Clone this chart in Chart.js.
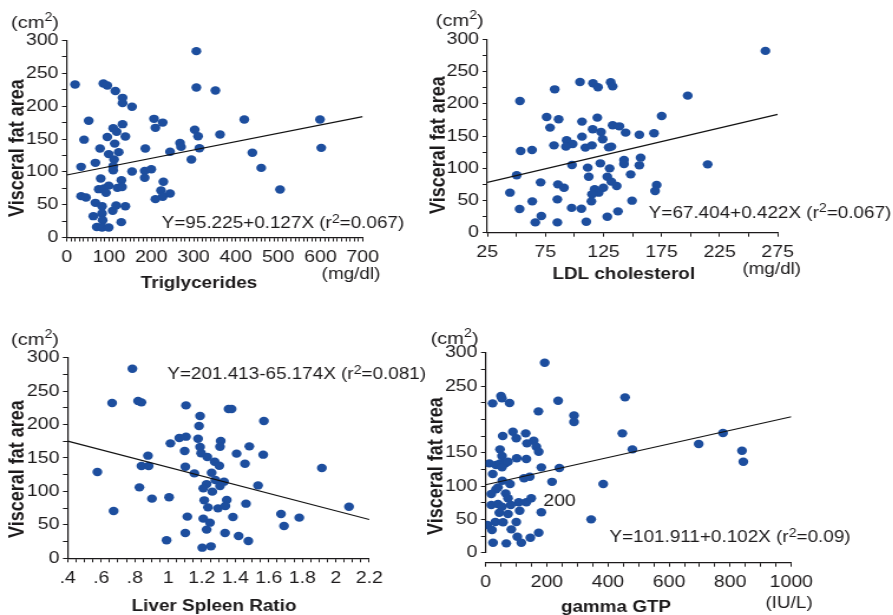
<!DOCTYPE html>
<html>
<head>
<meta charset="utf-8">
<script src="https://cdn.jsdelivr.net/npm/chart.js@4"></script>
<style>
  body { margin: 0; background: #fff; }
  #fig { position: relative; width: 893px; height: 615px; overflow: hidden; background: #fff; }
  .panel { position: absolute; transform-origin: 0 0; transform: scaleX(1.18); }
  canvas { display: block; }
</style>
</head>
<body>
<div id="fig">
  <div class="panel" style="left:0px;top:0px"><canvas id="chartTg" width="356" height="300"></canvas></div>
  <div class="panel" style="left:420px;top:0px"><canvas id="chartLdl" width="401" height="300"></canvas></div>
  <div class="panel" style="left:0px;top:310px"><canvas id="chartLsr" width="373" height="305"></canvas></div>
  <div class="panel" style="left:420px;top:310px"><canvas id="chartGtp" width="401" height="305"></canvas></div>
</div>
<script>
// the figure is a bit wider than tall, so every panel is stretched horizontally
const STRETCH = 1.18
const ink = '#1c1a1b'
const dotColor = '#1d4e9e'
const fontFamily = "'Liberation Sans', Arial, sans-serif"

// tick labels
const vfaLabels = [0, 50, 100, 150, 200, 250, 300]
const gtpVfaLabels = [0, 50, 100, 150, 250, 300] // 200 is missing on that axis in the original
const tgLabels = [0, 100, 200, 300, 400, 500, 600, 700]
const ldlLabels = [25, 75, 125, 175, 225, 275]
const lsrLabels = ['.4', '.6', '.8', '1', '1.2', '1.4', '1.6', '1.8', '2', '2.2']
const gtpLabels = [0, 200, 400, 600, 800, 1000]

// Triglycerides (mg/dl) vs visceral fat area (cm2)
const tgX = [19.7, 86.7, 96, 115, 132, 132, 154.5, 52, 41, 34, 67.8, 78.8, 96, 110, 118, 132, 138.7, 113.5, 99.3, 112,
  110, 110, 123, 154.5, 80.4, 75.7, 88, 93, 99.3, 119.8, 129.3, 130.8, 34, 45.7, 67.8, 83.6, 108.8, 116.7, 138.7, 63,
  83.6, 71, 85, 83.6, 99.3, 129, 306.6, 306.6, 351.6, 186, 206.5, 209.7, 227, 184.5, 200, 184.5, 244.4, 268, 270.4, 228.6,
  223, 209.7, 227, 244.4, 294.8, 302.7, 310.6, 313.8, 362.6, 420, 439, 460, 504.5, 599, 602]
const tgY = [233, 234.5, 231.5, 223, 212.7, 204.6, 199, 177.7, 149, 107.6, 113.7, 135.5, 153, 166.5, 161, 172.6, 153.8, 143, 127, 118.8,
  108.6, 102.5, 130, 100.5, 89.8, 73.6, 74.6, 68, 79, 75.6, 87.3, 77, 63, 61, 52.8, 47.7, 40.6, 48.7, 47.7, 32.5,
  36.5, 16, 26.4, 15.2, 15.2, 23.4, 283.8, 228.4, 223.9, 135.5, 180.7, 167, 175, 101.5, 104, 90.9, 130.5, 144, 138, 84.8,
  71.6, 58.4, 62, 67, 118.8, 164, 154.3, 136, 156.9, 179.7, 129, 106, 73, 179.7, 136.5]
const tgFitX = [0, 700]
const tgFitY = [95.2, 184.1]

// LDL cholesterol (mg/dl)
const ldlX = [264.4, 197.5, 175.1, 214.7, 53.1, 83, 104.8, 116, 120.3, 131.2, 132.9, 76.1, 79, 86.4, 106.5, 119.7, 115.7, 122.9, 124.3, 132.9,
  138.7, 144.1, 155.9, 168.5, 106.5, 93.3, 95.6, 98.5, 82.4, 92.7, 53.7, 63.5, 109.4, 115.1, 129.5, 131.8, 97.9, 111.4, 122.3, 130.3,
  142.7, 142.7, 157, 155.9, 50.3, 112.3, 128.3, 148.4, 70.9, 85.8, 91, 44.5, 131.8, 136.4, 117.4, 120.9, 115.1, 124.9, 170.8, 169.4,
  63.7, 85.3, 114.6, 149.6, 52.8, 97.6, 106, 137.5, 71.5, 66.3, 85.3, 110.2, 128.3]
const ldlY = [282, 212.6, 181, 106, 204.3, 222.4, 233.8, 231.8, 225.6, 233.3, 227, 179.5, 163, 175.9, 172.3, 178.5, 160.4, 156.2, 144.9, 166.6,
  165, 155.2, 152, 154.2, 149, 143.3, 137.6, 137.6, 135.5, 133.5, 126.7, 128.3, 132, 135.5, 132.4, 133.5, 105, 100.9, 107.6, 99.8,
  112.8, 106.6, 116.4, 104.5, 89, 86.9, 86.9, 90.5, 78.1, 75, 69.8, 62.1, 79.2, 72.4, 67.3, 62.1, 59.5, 69.8, 74, 64.7,
  48.6, 51.7, 48.6, 49.7, 36.7, 38.5, 37.2, 33.1, 25.9, 16, 16, 17, 24.8]
const ldlFitX = [25, 275]
const ldlFitY = [78.0, 183.5]

// Liver spleen ratio
const lsrX = [0.786, 0.665, 0.82, 0.84, 1.106, 1.19, 1.184, 1.36, 1.378, 1.571, 1.013, 1.066, 1.106, 1.178, 1.313, 1.309, 1.098, 1.19, 1.196, 1.233,
  1.277, 1.305, 1.408, 1.484, 1.567, 1.458, 0.879, 0.84, 0.883, 0.577, 1.102, 1.156, 1.259, 1.281, 1.333, 1.309, 1.229, 1.209, 1.263, 1.536,
  1.917, 2.079, 0.828, 0.903, 1.005, 0.674, 1.215, 1.349, 1.237, 1.297, 1.341, 1.464, 1.114, 1.209, 1.249, 1.229, 1.386, 1.673, 1.691, 1.782,
  1.102, 1.339, 1.42, 1.478, 0.99, 1.203, 1.255]
const lsrY = [283.5, 232.2, 235.2, 233.2, 228.7, 212.8, 197.8, 223.3, 223.3, 205.3, 171.9, 179.9, 181.9, 178.9, 175.4, 166.9, 160.5, 166.4, 157, 151.5,
  144.5, 138.5, 156.5, 167.4, 155, 141.5, 153.5, 138, 138, 129, 137, 127, 128, 117, 114.6, 108.1, 111, 104.6, 99.7, 109,
  135, 77.2, 106.1, 89.2, 91.2, 70.8, 86.7, 87.2, 76.2, 74.7, 78.2, 81.7, 62.3, 59.3, 53.3, 42.9, 61.8, 66.3, 48.3, 60.8,
  37.9, 37.9, 33.4, 25.9, 26.9, 15.9, 17.9]
const lsrFitX = [0.4, 2.2]
const lsrFitY = [175.3, 58.0]

// gamma GTP (IU/L)
const gtpX = [193, 50, 53, 22.5, 78, 237, 456, 172.5, 289, 289, 447, 776.5, 697, 838.7, 843, 480, 241, 217, 384.5, 345,
  182, 182, 89, 55.6, 100, 131, 157, 135, 165.6, 173.5, 46.8, 53.3, 11.8, 33.7, 46.8, 64, 73, 53.3, 23, 101.4,
  133, 125.3, 144, 54.3, 79.5, 40.2, 33.7, 18.3, 65.4, 73, 108, 133, 149, 18.3, 40, 53.3, 81.8, 44.5, 73, 111,
  5.2, 20.6, 31.4, 56.6, 83.8, 100, 24, 67.4, 103.4, 116.5, 146, 173.4]
const gtpY = [285, 235, 231.5, 224, 224.5, 228, 233, 212, 205.8, 196, 179, 179.5, 163, 153, 136.5, 155, 127, 106.3, 103, 50,
  60.6, 128, 181.5, 175, 171.6, 179, 168, 164, 159, 151.5, 155, 145, 134, 131.5, 134, 134, 136.5, 128, 118, 141.6,
  140.5, 111.6, 114, 108, 103, 98, 95, 88, 89, 81.6, 75.6, 75.6, 81.6, 71.5, 73, 69, 71.5, 60, 58, 63,
  41.5, 34, 46, 45.6, 35, 46, 15, 14, 24, 15, 22.5, 30]
const gtpFitX = [0, 1000]
const gtpFitY = [101.9, 203.9]


function toPoints(xs, ys){
    return xs.map((x, i) => ({x: x, y: ys[i]}))
}

function font(size, bold){
    return (bold ? 'bold ' : '') + size + 'px ' + fontFamily
}

//splits "r^2" style text into normal and superscript pieces
function pieces(text){
    return text.split(/(\^\d)/).filter(s => s.length).map(s => s[0] === '^' ? {t: s.slice(1), sup: true} : {t: s, sup: false})
}

//writes one line of text centred on (cx, cy), with raised small digits where asked
function drawRich(ctx, text, cx, cy, size, bold){
    const parts = pieces(text)
    const supSize = Math.round(size * 0.72)
    let total = 0
    for(let part of parts){
        ctx.font = font(part.sup ? supSize : size, bold)
        part.w = ctx.measureText(part.t).width
        total += part.w
    }
    let x = cx - total / 2
    ctx.textAlign = 'left'
    for(let part of parts){
        ctx.font = font(part.sup ? supSize : size, bold)
        ctx.fillText(part.t, x, part.sup ? cy - size * 0.3 : cy)
        x += part.w
    }
}

//plugin that writes the free text of a panel; positions are given in page pixels
function notesPlugin(panel, notes){
    return {
        id: 'notes',
        afterDraw(chart){
            const ctx = chart.ctx
            ctx.save()
            ctx.fillStyle = ink
            ctx.textBaseline = 'middle'
            for(let n of notes){
                const cx = (n.x - panel.left) / STRETCH
                const cy = n.y - panel.top
                if(n.rotate){
                    ctx.save()
                    ctx.translate(cx, cy)
                    ctx.rotate(-Math.PI / 2)
                    drawRich(ctx, n.text, 0, 0, n.size || 16, n.bold)
                    ctx.restore()
                } else {
                    drawRich(ctx, n.text, cx, cy, n.size || 16, n.bold)
                }
            }
            ctx.restore()
        }
    }
}

//moves the x axis a few pixels below the end of the y axis
function dropAxisPlugin(px){
    return {
        id: 'dropAxis',
        afterLayout(chart){
            chart.scales.x.top += px
            chart.scales.x.bottom += px
        }
    }
}

function makePanel(canvasId, p){
    const canvas = document.querySelector('canvas#' + canvasId)
    const cw = canvas.width
    const ch = canvas.height
    const leftW = (p.area.l - p.left) / STRETCH
    const padRight = cw - (p.area.r - p.left) / STRETCH
    const padTop = p.area.t - p.top
    const bottomH = ch - (p.area.b - p.top)

    const plugins = [notesPlugin(p, p.notes)]
    if(p.drop){
        plugins.push(dropAxisPlugin(p.drop))
    }

    return new Chart(canvas, {
        type: 'scatter',
        data: {
            datasets: [
                {
                    data: toPoints(p.xs, p.ys),
                    pointRadius: 4.2,
                    pointHoverRadius: 4.2,
                    pointBackgroundColor: dotColor,
                    pointBorderWidth: 0,
                    order: 2
                },
                {
                    type: 'line',
                    data: toPoints(p.fitX, p.fitY),
                    borderColor: '#111',
                    borderWidth: 1.2,
                    pointRadius: 0,
                    fill: false,
                    order: 1
                }
            ]
        },
        options: {
            responsive: false,
            animation: false,
            events: [],
            layout: {
                padding: {left: 0, right: padRight, top: padTop, bottom: 0}
            },
            plugins: {
                legend: {display: false},
                tooltip: {enabled: false}
            },
            scales: {
                x: {
                    type: 'linear',
                    min: p.xMin,
                    max: p.xMax,
                    afterFit: function(scale){ scale.height = bottomH },
                    ticks: {
                        stepSize: p.xStep,
                        autoSkip: false,
                        maxRotation: 0,
                        padding: 6,
                        color: ink,
                        font: {family: fontFamily, size: 16.5},
                        callback: p.xLabel
                    },
                    grid: {drawOnChartArea: false, tickLength: 4, tickColor: ink},
                    border: {color: ink, width: 1.2}
                },
                y: {
                    type: 'linear',
                    min: 0,
                    max: 300,
                    afterFit: function(scale){ scale.width = leftW },
                    ticks: {
                        stepSize: 25,
                        autoSkip: false,
                        padding: 3,
                        color: ink,
                        font: {family: fontFamily, size: 16.5},
                        callback: function(v){
                            return p.yLabels.includes(v) ? String(v) : ''
                        }
                    },
                    grid: {drawOnChartArea: false, tickLength: 4, tickColor: ink},
                    border: {color: ink, width: 1.2}
                }
            }
        },
        plugins: plugins
    })
}

makePanel('chartTg', {
    left: 0, top: 0,
    area: {l: 66.7, r: 362.7, t: 40.5, b: 237.5},
    xs: tgX, ys: tgY, fitX: tgFitX, fitY: tgFitY,
    xMin: 0, xMax: 700, xStep: 10,
    xLabel: function(v){
        const r = Math.round(v)
        return tgLabels.includes(r) ? String(r) : ''
    },
    yLabels: vfaLabels,
    notes: [
        {text: '(cm^2)', x: 35, y: 23, size: 17},
        {text: 'Visceral fat area', x: 17.5, y: 148, size: 18, bold: true, rotate: true},
        {text: 'Triglycerides', x: 199, y: 283.5, bold: true},
        {text: '(mg/dl)', x: 351, y: 275},
        {text: 'Y=95.225+0.127X (r^2=0.067)', x: 283, y: 224}
    ]
})

makePanel('chartLdl', {
    left: 420, top: 0,
    area: {l: 487.3, r: 777.7, t: 39.3, b: 232.7},
    xs: ldlX, ys: ldlY, fitX: ldlFitX, fitY: ldlFitY,
    xMin: 25, xMax: 275, xStep: 25,
    xLabel: function(v){
        const r = Math.round(v)
        return ldlLabels.includes(r) ? String(r) : ''
    },
    yLabels: vfaLabels,
    notes: [
        {text: '(cm^2)', x: 459.7, y: 21, size: 17},
        {text: 'Visceral fat area', x: 439, y: 145, size: 18, bold: true, rotate: true},
        {text: 'LDL cholesterol', x: 623.7, y: 274.5, bold: true},
        {text: '(mg/dl)', x: 771.7, y: 270},
        {text: 'Y=67.404+0.422X (r^2=0.067)', x: 770, y: 213.5}
    ]
})

makePanel('chartLsr', {
    left: 0, top: 310,
    area: {l: 67.7, r: 369.3, t: 357.7, b: 558.3},
    xs: lsrX, ys: lsrY, fitX: lsrFitX, fitY: lsrFitY,
    xMin: 0.4, xMax: 2.2, xStep: 0.05,
    xLabel: function(v){
        const s = String(Math.round(v * 100) / 100).replace(/^0\./, '.')
        return lsrLabels.includes(s) ? s : ''
    },
    yLabels: vfaLabels,
    notes: [
        {text: '(cm^2)', x: 35, y: 340, size: 17},
        {text: 'Visceral fat area', x: 17.5, y: 469, size: 18, bold: true, rotate: true},
        {text: 'Liver Spleen Ratio', x: 214, y: 606.5, bold: true},
        {text: 'Y=201.413-65.174X (r^2=0.081)', x: 296.7, y: 375}
    ]
})

makePanel('chartGtp', {
    left: 420, top: 310,
    area: {l: 485.7, r: 791.3, t: 352.7, b: 552.7},
    drop: 10,
    xs: gtpX, ys: gtpY, fitX: gtpFitX, fitY: gtpFitY,
    xMin: 0, xMax: 1000, xStep: 50,
    xLabel: function(v){
        const r = Math.round(v)
        return gtpLabels.includes(r) ? String(r) : ''
    },
    yLabels: gtpVfaLabels,
    notes: [
        {text: '(cm^2)', x: 454.5, y: 339, size: 17},
        {text: 'Visceral fat area', x: 436, y: 466, size: 18, bold: true, rotate: true},
        {text: 'gamma GTP', x: 616, y: 608, bold: true},
        {text: '(IU/L)', x: 789, y: 603.5},
        {text: '200', x: 559.5, y: 501, size: 16.5},
        {text: 'Y=101.911+0.102X (r^2=0.09)', x: 730, y: 538}
    ]
})
</script>
</body>
</html>
